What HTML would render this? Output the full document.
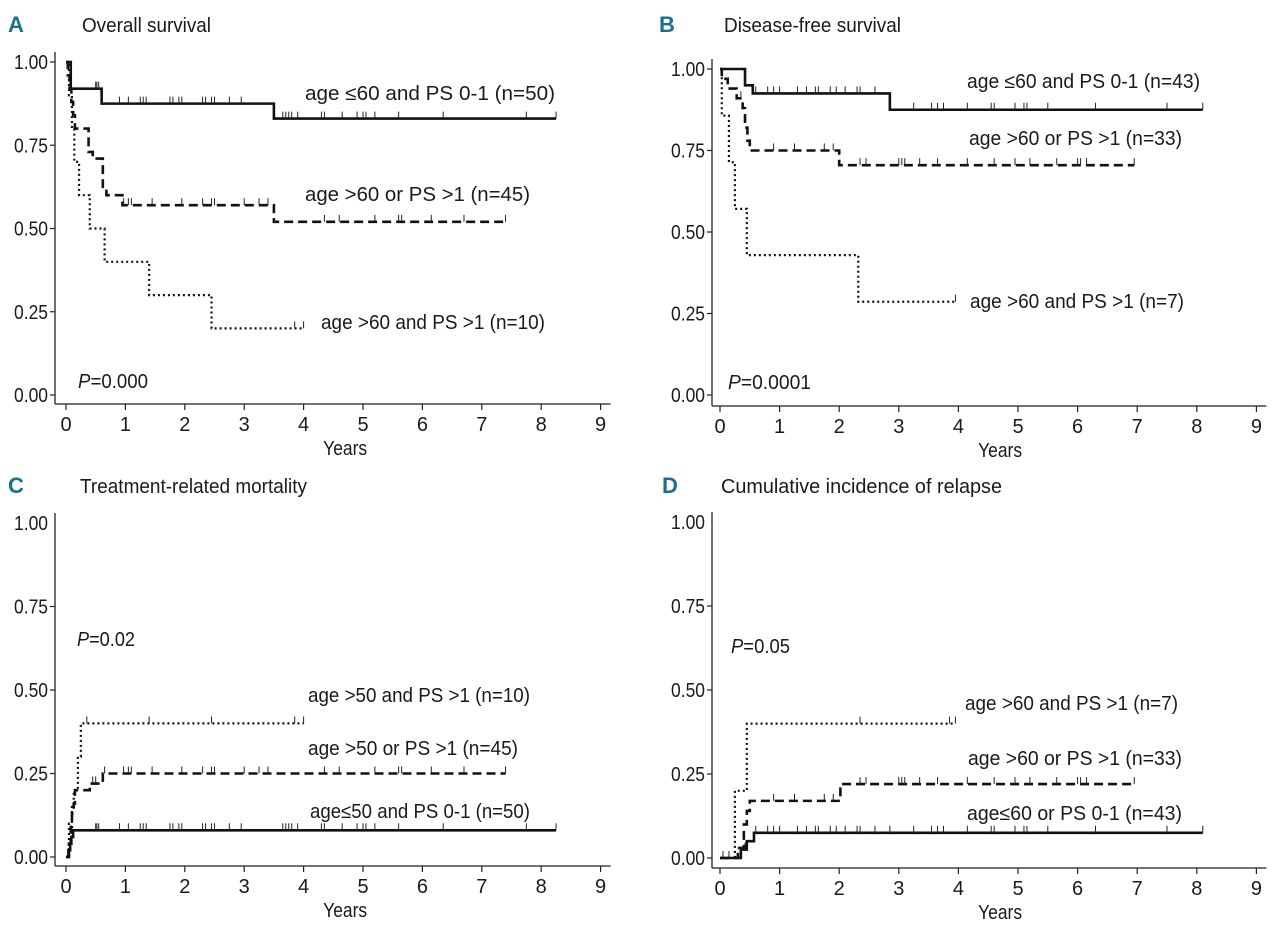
<!DOCTYPE html>
<html><head><meta charset="utf-8">
<style>
html,body{margin:0;padding:0;background:#fff;}
svg{display:block;}
text{font-family:"Liberation Sans Narrow","Liberation Sans",sans-serif;fill:#1a1a1a;}
</style></head>
<body>
<svg id="fig" width="1280" height="927" viewBox="0 0 1280 927" xmlns="http://www.w3.org/2000/svg"></svg>
<script>
// ---------- Data ----------
// Panel A: overall survival
const aSolidT = [0.08, 0.6, 3.5];           const aSolidV = [1.0, 0.92, 0.875, 0.83];  const aSolidEnd = 8.25;
const aSolidCens = [0.5,0.52,0.55,0.9,1.05,1.25,1.3,1.35,1.75,1.8,1.9,1.95,2.3,2.35,2.45,2.5,2.75,2.95,3.65,3.7,3.75,3.8,3.9,4.3,4.35,4.65,4.9,5.0,5.05,5.2,5.6,6.35,7.75,8.25];
const aDashT = [0.03,0.06,0.09,0.12,0.15,0.38,0.45,0.62,0.68,0.95,3.5];
const aDashV = [1.0,0.96,0.92,0.88,0.84,0.80,0.73,0.71,0.62,0.60,0.57,0.52]; const aDashEnd = 7.4;
const aDashCens = [0.97,1.05,1.1,1.45,1.95,2.3,2.45,2.5,3.0,3.25,3.4,4.35,4.6,5.2,5.6,5.65,6.15,6.7,7.4];
const aDotT = [0.05,0.1,0.14,0.22,0.4,0.65,1.4,2.45];
const aDotV = [1.0,0.9,0.8,0.7,0.6,0.5,0.4,0.3,0.2]; const aDotEnd = 4.0;
const aDotCens = [3.85,4.0];
// Panel B: disease-free survival
const bSolidT = [0.42,0.55,2.85];           const bSolidV = [1.0,0.95,0.925,0.875]; const bSolidEnd = 8.1;
const bSolidCens = [0.42,0.6,0.8,0.9,1.0,1.3,1.45,1.6,1.65,1.85,1.95,2.1,2.3,2.35,2.6,3.25,3.55,3.65,3.75,4.15,4.55,4.6,4.95,5.1,5.15,5.5,6.3,7.5,8.1];
const bDashT = [0.03,0.13,0.28,0.38,0.42,0.46,0.5,2.0];
const bDashV = [1.0,0.97,0.94,0.91,0.88,0.82,0.78,0.75,0.705]; const bDashEnd = 6.95;
const bDashCens = [0.35,0.9,1.25,1.75,1.9,2.35,2.45,3.0,3.05,3.1,3.35,3.65,4.15,4.6,4.95,5.2,5.65,6.0,6.05,6.15,6.95];
const bDotT = [0.03,0.15,0.25,0.45,2.32];
const bDotV = [1.0,0.857,0.714,0.571,0.429,0.286]; const bDotEnd = 3.95;
const bDotCens = [3.95];
// Panel C: treatment-related mortality
const cSolidT = [0.04,0.07,0.09,0.12];      const cSolidV = [0.0,0.02,0.04,0.06,0.08]; const cSolidEnd = 8.25;
const cSolidCens = aSolidCens;
const cDashT = [0.05,0.08,0.1,0.13,0.15,0.4,0.62];
const cDashV = [0.0,0.04,0.09,0.13,0.16,0.2,0.22,0.25]; const cDashEnd = 7.4;
const cDashCens = [0.45,0.5,0.65,0.97,1.05,1.1,1.45,1.95,2.3,2.45,2.5,3.0,3.25,3.4,4.35,4.6,5.2,5.6,5.65,6.15,6.7,7.4];
const cDotT = [0.05,0.1,0.13,0.2,0.25];
const cDotV = [0.0,0.1,0.15,0.2,0.3,0.4]; const cDotEnd = 4.0;
const cDotCens = [0.35,1.4,2.45,3.85,4.0];
// Panel D: cumulative incidence of relapse
const dSolidT = [0.35,0.45,0.57];           const dSolidV = [0.0,0.025,0.05,0.075]; const dSolidEnd = 8.1;
const dSolidCens = [0.05,0.15,0.42,0.6,0.8,0.9,1.0,1.3,1.45,1.6,1.65,1.85,1.95,2.1,2.3,2.35,2.6,2.85,3.25,3.55,3.65,3.75,4.15,4.55,4.6,4.95,5.1,5.15,5.5,6.3,7.5,8.1];
const dDashT = [0.3,0.4,0.45,0.5,2.02];
const dDashV = [0.0,0.03,0.1,0.14,0.17,0.22]; const dDashEnd = 6.95;
const dDashCens = [0.9,1.25,1.75,1.9,2.35,2.45,3.0,3.05,3.1,3.35,3.65,4.15,4.6,4.95,5.2,5.65,6.0,6.05,6.15,6.95];
const dDotT = [0.25,0.45];
const dDotV = [0.0,0.2,0.4]; const dDotEnd = 3.95;
const dDotCens = [2.35,3.85,3.95];

const xTicks = [0,1,2,3,4,5,6,7,8,9];
const yTicks = [0,0.25,0.5,0.75,1.0];
const yTickLabels = ["0.00","0.25","0.50","0.75","1.00"];

// ---------- Drawing ----------
const NS = "http://www.w3.org/2000/svg";
const svg = document.getElementById('fig');
function mk(tag, attrs, parent){
  const e = document.createElementNS(NS, tag);
  for (const k in attrs) e.setAttribute(k, attrs[k]);
  (parent||svg).appendChild(e);
  return e;
}
function txt(s, x, y, size, parent, anchor, len){
  const t = mk('text', {x:x, y:y, 'font-size':size, 'text-anchor':anchor||'start'}, parent);
  if (len){ t.setAttribute('textLength', len); t.setAttribute('lengthAdjust','spacingAndGlyphs'); }
  t.textContent = s;
  return t;
}

function panel(cfg){
  const g = mk('g', {});
  
  
  const X = t => cfg.x0 + t * cfg.xs;
  const Y = v => cfg.y0 - v * (cfg.y0 - cfg.y1);
  const L = txt(cfg.letter, cfg.letterX, cfg.titleY, 22, g);
  L.setAttribute('font-weight','bold'); L.setAttribute('style','fill:#1a6f94');
   
  const T = txt(cfg.title, cfg.titleX, cfg.titleY, 20, g, 'start', cfg.titleLen);
   
  const ya = mk('line', {x1:cfg.ax, y1:cfg.y1-10, x2:cfg.ax, y2:cfg.xaY, stroke:'#222', 'stroke-width':1.3}, g);
   
  const xa = mk('line', {x1:cfg.ax, y1:cfg.xaY, x2:X(9)+10, y2:cfg.xaY, stroke:'#222', 'stroke-width':1.3}, g);
   
  yTicks.forEach((v,i)=>{
    if (cfg.noTopTick && v===1) {} else mk('line',{x1:cfg.ax-5,y1:Y(v),x2:cfg.ax,y2:Y(v),stroke:'#222','stroke-width':1.2},g);
    const l = txt(yTickLabels[i], cfg.ax-7, Y(v)+7, 20, g, 'end', 34);
     
  });
  xTicks.forEach(t=>{
    mk('line',{x1:X(t),y1:cfg.xaY,x2:X(t),y2:cfg.xaY+6,stroke:'#222','stroke-width':1.2},g);
    const l = txt(String(t), X(t), cfg.xaY+27, 20, g, 'middle');
     
  });
  const yl = txt('Years', X(4.7), cfg.xaY+51, 20, g, 'middle', 44);
   
  cfg.series.forEach(s=>{
    let d = 'M' + X(0) + ' ' + Y(s.v[0]);
    s.t.forEach((tt,i)=>{ d += ' H' + X(tt) + ' V' + Y(s.v[i+1]); });
    d += ' H' + X(s.end);
    const p = mk('path', {d:d, fill:'none', stroke:'#111', 'stroke-width':s.w, 'stroke-dasharray':s.dash}, g);
    
    
    const valAt = tt => { let v = s.v[0]; s.t.forEach((st,i)=>{ if (tt>=st) v = s.v[i+1]; }); return v; };
    s.cens.forEach(tt=>{
      const yy = Y(valAt(tt));
      const c = mk('line', {x1:X(tt), y1:yy, x2:X(tt), y2:yy-7, stroke:'#222', 'stroke-width':1}, g);
      
      
    });
  });
  cfg.labels.forEach(lb=>{
    const l = txt(lb[0], lb[1], lb[2], 20, g, 'start', lb[3]);
    
    
  });
  const pt = mk('text', {x:cfg.p[0], y:cfg.p[1], 'font-size':20, textLength:cfg.p[3], lengthAdjust:'spacingAndGlyphs'}, g);
  
  
  pt.innerHTML = '<tspan font-style="italic">P</tspan>=' + cfg.p[2];
}

const SOL = {w:2.6, dash:'none'}, DAS = {w:2.6, dash:'9,5'}, DOT = {w:2.2, dash:'2,3'};
panel({name:'panel-a-overall-survival', letter:'A', letterX:8, title:'Overall survival', titleX:82, titleY:32, titleLen:129,
  ax:55, x0:66, xs:59.4, y0:395, y1:62, xaY:404,
  series:[
    Object.assign({name:'line-age-le60-ps01', t:aSolidT, v:aSolidV, end:aSolidEnd, cens:aSolidCens}, SOL),
    Object.assign({name:'line-age-gt60-or-ps-gt1', t:aDashT, v:aDashV, end:aDashEnd, cens:aDashCens}, DAS),
    Object.assign({name:'line-age-gt60-and-ps-gt1', t:aDotT, v:aDotV, end:aDotEnd, cens:aDotCens}, DOT)],
  labels:[['age ≤60 and PS 0-1 (n=50)',305,100,250],['age >60 or PS >1 (n=45)',305,201,225],['age >60 and PS >1 (n=10)',321,329,224]],
  p:[78,388,'0.000',70]});
panel({name:'panel-b-disease-free-survival', letter:'B', letterX:659, title:'Disease-free survival', titleX:724, titleY:32, titleLen:177,
  ax:712, x0:720, xs:59.6, y0:395, y1:69, xaY:406,
  series:[
    Object.assign({name:'line-age-le60-ps01', t:bSolidT, v:bSolidV, end:bSolidEnd, cens:bSolidCens}, SOL),
    Object.assign({name:'line-age-gt60-or-ps-gt1', t:bDashT, v:bDashV, end:bDashEnd, cens:bDashCens}, DAS),
    Object.assign({name:'line-age-gt60-and-ps-gt1', t:bDotT, v:bDotV, end:bDotEnd, cens:bDotCens}, DOT)],
  labels:[['age ≤60 and PS 0-1 (n=43)',967,88,233],['age >60 or PS >1 (n=33)',969,145,213],['age >60 and PS >1 (n=7)',970,308,214]],
  p:[728,389,'0.0001',83]});
panel({name:'panel-c-treatment-related-mortality', letter:'C', letterX:8, title:'Treatment-related mortality', titleX:80, titleY:493, titleLen:227,
  ax:55, x0:66, xs:59.4, y0:857, y1:523, xaY:866, noTopTick:true,
  series:[
    Object.assign({name:'line-age-le50-ps01', t:cSolidT, v:cSolidV, end:cSolidEnd, cens:cSolidCens}, SOL),
    Object.assign({name:'line-age-gt50-or-ps-gt1', t:cDashT, v:cDashV, end:cDashEnd, cens:cDashCens}, DAS),
    Object.assign({name:'line-age-gt50-and-ps-gt1', t:cDotT, v:cDotV, end:cDotEnd, cens:cDotCens}, DOT)],
  labels:[['age >50 and PS >1 (n=10)',308,702,222],['age >50 or PS >1 (n=45)',308,755,210],['age≤50 and PS 0-1 (n=50)',310,818,220]],
  p:[77,646,'0.02',58]});
panel({name:'panel-d-cumulative-incidence-of-relapse', letter:'D', letterX:662, title:'Cumulative incidence of relapse', titleX:721, titleY:493, titleLen:281,
  ax:712, x0:720, xs:59.6, y0:858, y1:522, xaY:868, noTopTick:true,
  series:[
    Object.assign({name:'line-age-le60-or-ps01', t:dSolidT, v:dSolidV, end:dSolidEnd, cens:dSolidCens}, SOL),
    Object.assign({name:'line-age-gt60-or-ps-gt1', t:dDashT, v:dDashV, end:dDashEnd, cens:dDashCens}, DAS),
    Object.assign({name:'line-age-gt60-and-ps-gt1', t:dDotT, v:dDotV, end:dDotEnd, cens:dDotCens}, DOT)],
  labels:[['age >60 and PS >1 (n=7)',965,710,213],['age >60 or PS >1 (n=33)',968,765,214],['age≤60 or PS 0-1 (n=43)',967,820,215]],
  p:[731,653,'0.05',59]});
</script>
</body></html>
